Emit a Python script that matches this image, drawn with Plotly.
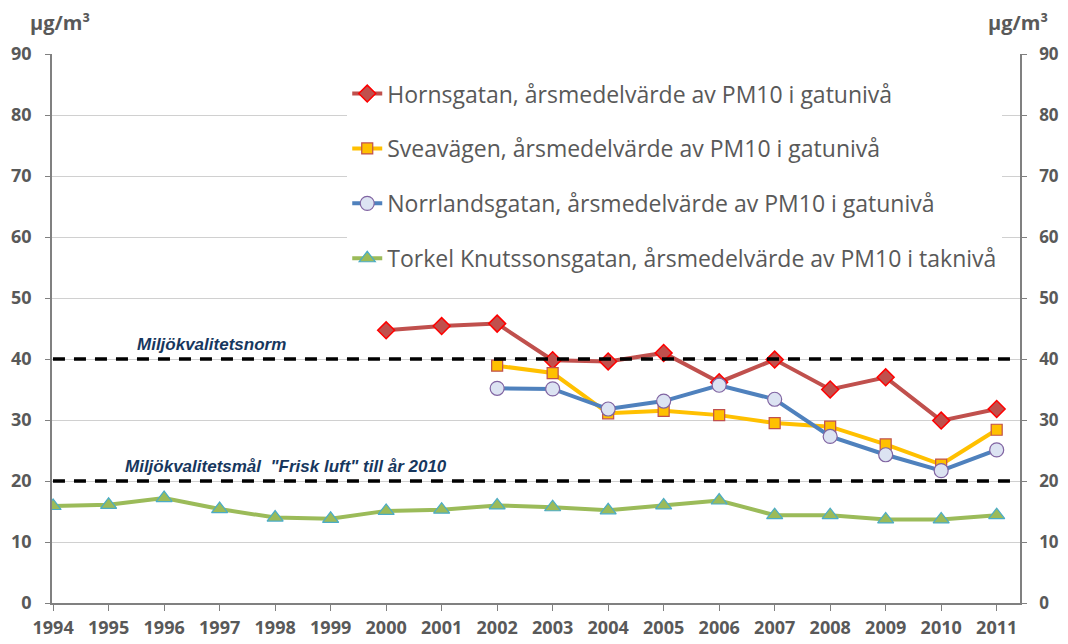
import plotly.graph_objects as go

years = list(range(1994, 2012))
years_horn = list(range(2000, 2012))
years_street = list(range(2002, 2012))

hornsgatan = [44.7, 45.4, 45.8, 39.8, 39.6, 41.0, 36.2, 39.9, 35.0, 37.0, 29.9, 31.8]
sveavagen = [38.9, 37.7, 31.1, 31.5, 30.8, 29.5, 28.9, 26.0, 22.7, 28.4]
norrlandsgatan = [35.2, 35.1, 31.8, 33.1, 35.7, 33.4, 27.3, 24.3, 21.7, 25.1]
torkel = [15.9, 16.1, 17.2, 15.4, 14.0, 13.8, 15.1, 15.3, 16.0, 15.7,
          15.2, 16.0, 16.8, 14.4, 14.4, 13.7, 13.7, 14.4]

names = [
    "Hornsgatan, årsmedelvärde av PM10 i gatunivå",
    "Sveavägen, årsmedelvärde av PM10 i gatunivå",
    "Norrlandsgatan, årsmedelvärde av PM10 i gatunivå",
    "Torkel Knutssonsgatan, årsmedelvärde av PM10 i taknivå",
]
norm_levels = [40, 20]
norm_labels = ["Miljökvalitetsnorm", "Miljökvalitetsmål  \"Frisk luft\" till år 2010"]
unit = "µg/m³"

GRAY = "#595959"
FONT = "Open Sans"
fig = go.Figure()

fig.add_trace(go.Scatter(
    x=years_horn, y=hornsgatan, name=names[0], mode="lines+markers",
    line=dict(color="#C0504D", width=4),
    marker=dict(symbol="diamond", size=13, color="#C0504D", line=dict(color="#FF0000", width=1.5)),
    legendgroup="a"))
fig.add_trace(go.Scatter(
    x=years_street, y=sveavagen, name=names[1], mode="lines+markers",
    line=dict(color="#FFC000", width=4),
    marker=dict(symbol="square", size=11, color="#FFC000", line=dict(color="#C0504D", width=1.2)),
    legendgroup="b"))
fig.add_trace(go.Scatter(
    x=years_street, y=norrlandsgatan, name=names[2], mode="lines+markers",
    line=dict(color="#4F81BD", width=4),
    marker=dict(symbol="circle", size=14, color="#DCE3F2", line=dict(color="#8064A2", width=1.2)),
    legendgroup="c"))
fig.add_trace(go.Scatter(
    x=years, y=torkel, name=names[3], mode="lines+markers",
    line=dict(color="#9BBB59", width=4),
    marker=dict(symbol="triangle-up", size=14, color="#9BBB59", line=dict(color="#4BACC6", width=1.2)),
    legendgroup="d"))
# invisible trace to anchor the right-hand axis
fig.add_trace(go.Scatter(
    x=years, y=torkel, yaxis="y2", mode="lines", line=dict(color="rgba(0,0,0,0)"),
    showlegend=False, hoverinfo="skip"))

for lvl in norm_levels:
    fig.add_shape(type="line", xref="paper", yref="y", x0=0.001, x1=0.998, y0=lvl, y1=lvl,
                  line=dict(color="black", width=3.5, dash="12px,9px"), layer="above")

label_x = [0.165, 0.242]
label_dy = [2.45, 2.3]
for lvl, txt, lx, dy in zip(norm_levels, norm_labels, label_x, label_dy):
    fig.add_annotation(x=lx, xref="paper", y=lvl + dy, yref="y", text="<b><i>" + txt + "</i></b>",
                       showarrow=False, xanchor="center", yanchor="middle",
                       font=dict(family="Liberation Sans", size=17, color="#17375E"))

for ux in [0.008, 0.998]:
    fig.add_annotation(x=ux, xref="paper", y=1.058, yref="paper", text="<b>" + unit + "</b>",
                       showarrow=False, xanchor="center", yanchor="middle",
                       font=dict(family=FONT, size=20, color=GRAY))

tickfont = dict(family=FONT, size=18, color=GRAY, weight="bold")
tickfont_right = dict(family=FONT, size=17, color=GRAY, weight="bold")
fig.update_layout(
    width=1060, height=636,
    margin=dict(l=44, r=48, t=46, b=41, autoexpand=False),
    paper_bgcolor="white", plot_bgcolor="white",
    font=dict(family=FONT, color=GRAY),
    xaxis=dict(range=[1993.98, 2011.42], tickmode="array", tickvals=years,
               ticktext=[str(y) for y in years], showgrid=False, zeroline=False,
               showline=True, linecolor="#808080", linewidth=1.5, automargin=False,
               ticks="outside", ticklen=6, tickcolor="#808080", ticklabelstandoff=2,
               tickfont=dict(family=FONT, size=18, color=GRAY, weight="bold")),
    yaxis=dict(range=[0, 90], dtick=10, showgrid=True, gridcolor="#D0D0D0", gridwidth=1,
               zeroline=False, showline=True, linecolor="#808080", linewidth=1.5,
               automargin=False, ticklabelstandoff=10,
               ticks="outside", ticklen=5, tickcolor="#808080", tickfont=tickfont),
    yaxis2=dict(range=[0, 90], dtick=10, overlaying="y", side="right", showgrid=False,
                zeroline=False, showline=True, linecolor="#808080", linewidth=1.5,
                automargin=False, ticklabelstandoff=9,
                ticks="outside", ticklen=5, tickcolor="#808080", tickfont=tickfont_right),
    legend=dict(x=0.305, y=0.967, xanchor="left", yanchor="top",
                bgcolor="white", borderwidth=0, tracegroupgap=22, itemwidth=30,
                font=dict(family=FONT, size=23, color=GRAY)),
    showlegend=True,
)

fig.write_html("out.html")
